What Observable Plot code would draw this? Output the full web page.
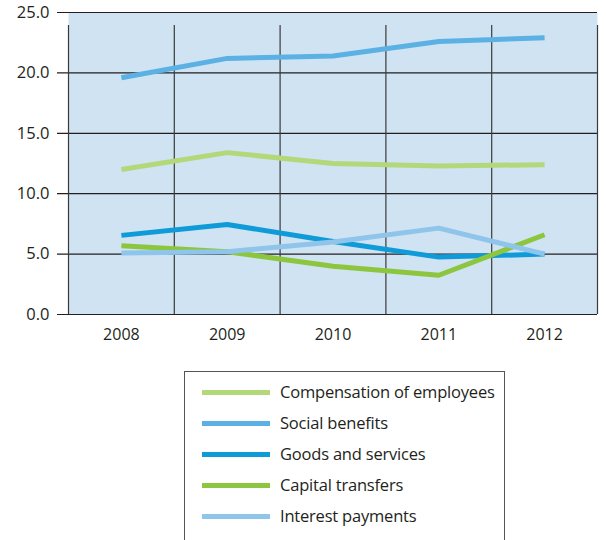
<!DOCTYPE html>
<html>
<head>
<meta charset="utf-8">
<script src="https://cdn.jsdelivr.net/npm/d3@7"></script>
<script src="https://cdn.jsdelivr.net/npm/@observablehq/plot@0.6"></script>
<style>
  body { margin: 0; background: #fff; font-family: "Open Sans", sans-serif; color: #231f20; }
  #wrap { position: relative; width: 606px; height: 540px; overflow: hidden; }
  #legend { position: absolute; left: 184px; top: 371px; width: 321px; height: 200px;
            border: 1px solid #555; box-sizing: border-box; }
  .sw { position: absolute; left: 17px; width: 68px; height: 5px; }
  .lab { position: absolute; left: 95px; font-size: 16.5px; white-space: nowrap; line-height: 20px; letter-spacing: -0.2px; color: #231f20; }
</style>
</head>
<body>
<div id="wrap"><div id="chart"></div><div id="legend"></div></div>
<script>
const years = [2008, 2009, 2010, 2011, 2012];
const seriesNames = ["Compensation of employees", "Social benefits", "Goods and services", "Capital transfers", "Interest payments"];
const colors = ["#b3d87a", "#5cb1e4", "#0e9bd8", "#8cc63f", "#8fc5ea"];
const compensation = [12.0, 13.4, 12.5, 12.3, 12.4];
const socialBenefits = [19.6, 21.2, 21.4, 22.6, 22.9];
const goodsServices = [6.55, 7.45, 6.05, 4.75, 5.0];
const capitalTransfers = [5.7, 5.2, 4.0, 3.25, 6.6];
const interestPayments = [5.1, 5.2, 6.0, 7.15, 5.0];
const yTicks = [0, 5, 10, 15, 20, 25];

const allSeries = [compensation, socialBenefits, goodsServices, capitalTransfers, interestPayments];
const rows = [];
allSeries.forEach((vals, i) => vals.forEach((v, j) => rows.push({series: seriesNames[i], year: years[j], value: v})));
const bounds = [years[0] - 0.5, ...years.map(y => y + 0.5)];

const chart = Plot.plot({
  width: 606,
  height: 350,
  marginTop: 12,
  marginBottom: 36,
  marginLeft: 68,
  marginRight: 9,
  style: {fontFamily: "'Open Sans', sans-serif", fontSize: "16px", color: "#231f20", background: "#fff"},
  x: {domain: [years[0] - 0.5, years[years.length - 1] + 0.5]},
  y: {domain: [0, 25]},
  color: {domain: seriesNames, range: colors},
  marks: [
    Plot.frame({fill: "#cfe3f3", stroke: null}),
    Plot.ruleY(yTicks, {stroke: "#231f20", strokeWidth: 1.2, strokeOpacity: 1, insetLeft: -11}),
    Plot.ruleX(bounds, {y1: 0, y2: 25, stroke: "#3a3a3a", strokeWidth: 1.2, strokeOpacity: 1, insetBottom: -13}),
    Plot.axisY({ticks: yTicks, tickSize: 0, tickPadding: 19, tickFormat: d3.format(".1f"), label: null, fontSize: 16.5}),
    Plot.axisX({ticks: years, tickSize: 0, tickPadding: 14, tickFormat: d => String(d), label: null, fontSize: 16}),
    Plot.line(rows, {x: "year", y: "value", z: "series", stroke: "series", strokeWidth: 5, strokeLinejoin: "miter", strokeLinecap: "butt"})
  ]
});
document.getElementById("chart").appendChild(chart);

const legend = document.getElementById("legend");
seriesNames.forEach((name, i) => {
  const top = 20 + i * 31 - 10;
  const sw = document.createElement("div");
  sw.className = "sw";
  sw.style.top = (top + 8) + "px";
  sw.style.background = colors[i];
  legend.appendChild(sw);
  const lab = document.createElement("div");
  lab.className = "lab";
  lab.style.top = top + "px";
  lab.textContent = name;
  legend.appendChild(lab);
});
</script>
</body>
</html>
